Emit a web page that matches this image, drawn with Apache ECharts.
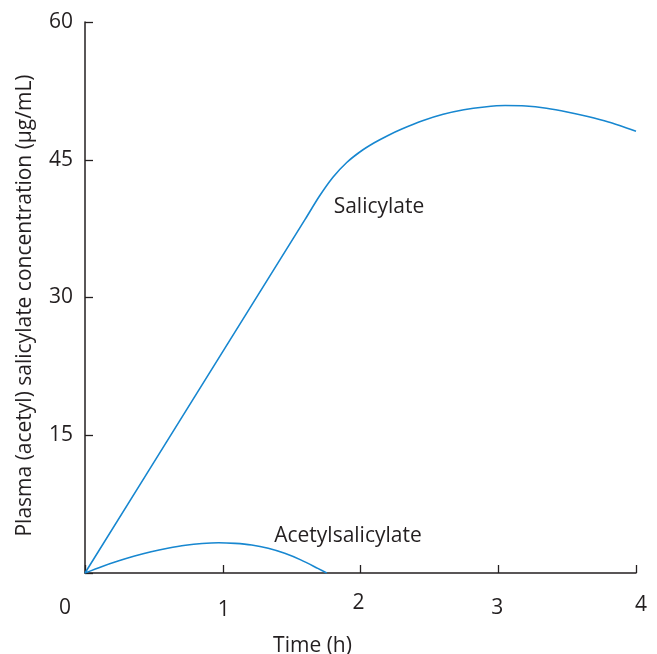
<!DOCTYPE html>
<html>
<head>
<meta charset="utf-8">
<script src="https://cdn.jsdelivr.net/npm/echarts@6/dist/echarts.min.js"></script>
<style>html,body{margin:0;padding:0;background:#fff}#c{width:657px;height:654px}</style>
</head>
<body>
<div id="c"></div>
<script>
// Data
const xTicks = [0, 1, 2, 3, 4];
const yTicks = [0, 15, 30, 45, 60];
const salicylateT = [0, 0.8, 1.6, 1.7, 1.8, 1.9, 2.0, 2.1, 2.2, 2.3, 2.45, 2.6, 2.75, 2.9, 3.05, 3.2, 3.35, 3.5, 3.65, 3.8, 4.0];
const salicylateV = [0, 19.28, 38.56, 41.0, 43.1, 44.7, 45.9, 46.85, 47.65, 48.35, 49.25, 49.95, 50.45, 50.75, 50.9, 50.85, 50.6, 50.2, 49.7, 49.1, 48.1];
const acetylT = [0, 0.12, 0.24, 0.36, 0.48, 0.6, 0.73, 0.85, 0.97, 1.09, 1.21, 1.33, 1.45, 1.57, 1.69, 1.755];
const acetylV = [0, 0.69, 1.3, 1.85, 2.32, 2.7, 3.03, 3.22, 3.3, 3.23, 3.05, 2.69, 2.14, 1.4, 0.5, 0];
const seriesNames = ['Salicylate', 'Acetylsalicylate'];
const labelAnchors = [[2.134, 39.86], [1.909, 4.03]];

const TXT = '#231f20';
const LINE = '#1787d0';
const FONT = '"Open Sans", "Noto Sans", sans-serif';
const FS = 21;

const zip = (a, b) => a.map((v, i) => [v, b[i]]);

// per-tick label nudges (hand-placed in original)
const xRich = {
  l0: { padding: [5, 40, 0, 0] },
  l1: { padding: [7, 0, 0, 2] },
  l2: { padding: [0, 4, 0, 0] },
  l3: { padding: [5, 2, 0, 0] },
  l4: { padding: [2, 0, 0, 10] }
};
Object.values(xRich).forEach(s => { s.fontSize = FS; s.color = TXT; s.fontFamily = FONT; });

const chart = echarts.init(document.getElementById('c'), null, { renderer: 'canvas' });
chart.setOption({
  animation: false,
  backgroundColor: '#fff',
  grid: { left: 85, right: 21, top: 22, bottom: 81, containLabel: false, outerBoundsMode: 'none' },
  xAxis: {
    type: 'value', min: xTicks[0], max: xTicks[xTicks.length - 1], interval: 1,
    name: 'Time (h)', nameLocation: 'middle', nameGap: 63,
    nameTextStyle: { fontSize: FS, color: TXT, fontFamily: FONT, padding: [0, 96, 0, 0] },
    axisLine: { lineStyle: { color: TXT, width: 1.5 } },
    axisTick: { inside: true, length: 8, lineStyle: { color: TXT, width: 1.3 } },
    splitLine: { show: false },
    axisLabel: {
      margin: 20, showMinLabel: true, showMaxLabel: true,
      formatter: v => '{l' + v + '|' + v + '}',
      rich: xRich
    }
  },
  yAxis: {
    type: 'value', min: yTicks[0], max: yTicks[yTicks.length - 1], interval: 15,
    name: 'Plasma (acetyl) salicylate concentration (μg/mL)', nameLocation: 'middle', nameGap: 49,
    nameTextStyle: { fontSize: FS, color: TXT, fontFamily: FONT, padding: [0, 16, 0, 0] },
    axisLine: { show: true, lineStyle: { color: TXT, width: 1.5 } },
    axisTick: { inside: true, length: 8, lineStyle: { color: TXT, width: 1.3 } },
    splitLine: { show: false },
    axisLabel: {
      margin: 12, fontSize: FS, color: TXT, fontFamily: FONT,
      formatter: v => (v === 0 ? '' : String(v))
    }
  },
  series: [
    {
      name: seriesNames[0], type: 'line', data: zip(salicylateT, salicylateV),
      smooth: 0.25, showSymbol: false, symbol: 'none',
      lineStyle: { color: LINE, width: 1.6 },
      markPoint: {
        symbol: 'circle', symbolSize: 1, itemStyle: { color: 'rgba(0,0,0,0)' },
        label: { show: true, position: 'inside', formatter: seriesNames[0], fontSize: FS, color: TXT, fontFamily: FONT },
        data: [{ coord: labelAnchors[0] }]
      }
    },
    {
      name: seriesNames[1], type: 'line', data: zip(acetylT, acetylV),
      smooth: 0.25, showSymbol: false, symbol: 'none',
      lineStyle: { color: LINE, width: 1.6 },
      markPoint: {
        symbol: 'circle', symbolSize: 1, itemStyle: { color: 'rgba(0,0,0,0)' },
        label: { show: true, position: 'inside', formatter: seriesNames[1], fontSize: FS, color: TXT, fontFamily: FONT },
        data: [{ coord: labelAnchors[1] }]
      }
    }
  ]
});
</script>
</body>
</html>
